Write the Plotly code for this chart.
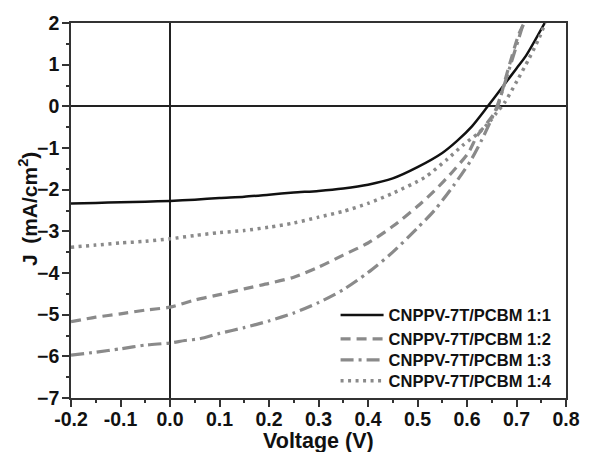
import plotly.graph_objects as go

# ---- data ----
v_11 = [-0.2, -0.15, -0.1, -0.05, 0.0, 0.05, 0.1, 0.15, 0.2, 0.25, 0.3, 0.35, 0.4, 0.45, 0.5, 0.55, 0.58, 0.61, 0.64, 0.672, 0.7, 0.719, 0.757]
j_11 = [-2.33, -2.32, -2.30, -2.29, -2.27, -2.24, -2.20, -2.17, -2.12, -2.07, -2.03, -1.97, -1.88, -1.73, -1.46, -1.12, -0.83, -0.48, -0.03, 0.47, 0.91, 1.21, 2.0]

v_12 = [-0.2, -0.15, -0.1, -0.05, 0.0, 0.05, 0.1, 0.15, 0.2, 0.25, 0.3, 0.35, 0.4, 0.45, 0.5, 0.534, 0.573, 0.603, 0.62, 0.64, 0.66, 0.679, 0.705, 0.716]
j_12 = [-5.17, -5.06, -4.98, -4.89, -4.82, -4.65, -4.52, -4.38, -4.25, -4.10, -3.86, -3.57, -3.28, -2.88, -2.40, -2.03, -1.54, -1.11, -0.72, -0.41, -0.07, 0.72, 1.74, 2.0]

v_13 = [-0.2, -0.15, -0.1, -0.05, 0.0, 0.03, 0.06, 0.1, 0.15, 0.2, 0.25, 0.3, 0.35, 0.4, 0.45, 0.5, 0.534, 0.573, 0.607, 0.63, 0.66, 0.686, 0.711, 0.714]
j_13 = [-5.97, -5.90, -5.82, -5.73, -5.68, -5.62, -5.58, -5.45, -5.31, -5.15, -4.96, -4.71, -4.40, -3.99, -3.50, -2.92, -2.50, -1.90, -1.31, -0.80, -0.02, 0.92, 1.88, 2.0]

v_14 = [-0.2, -0.15, -0.1, -0.05, 0.0, 0.05, 0.1, 0.15, 0.2, 0.25, 0.3, 0.35, 0.4, 0.449, 0.514, 0.561, 0.591, 0.623, 0.645, 0.66, 0.676, 0.701, 0.725, 0.745, 0.758]
j_14 = [-3.38, -3.33, -3.28, -3.24, -3.18, -3.10, -3.03, -2.98, -2.90, -2.80, -2.66, -2.52, -2.33, -2.09, -1.71, -1.26, -0.94, -0.64, -0.38, -0.15, 0.09, 0.61, 1.14, 1.62, 2.0]

names = ["CNPPV-7T/PCBM 1:1", "CNPPV-7T/PCBM 1:2", "CNPPV-7T/PCBM 1:3", "CNPPV-7T/PCBM 1:4"]
x_ticks = [-0.2, -0.1, 0.0, 0.1, 0.2, 0.3, 0.4, 0.5, 0.6, 0.7, 0.8]
x_tick_labels = ["-0.2", "-0.1", "0.0", "0.1", "0.2", "0.3", "0.4", "0.5", "0.6", "0.7", "0.8"]
y_ticks = [2, 1, 0, -1, -2, -3, -4, -5, -6, -7]

FONT = "Liberation Sans, Arial, sans-serif"
GRAY = "#8a8a8a"
INK = "#111111"

fig = go.Figure()
styles = [
    dict(color=INK, width=2.5, dash="solid"),
    dict(color=GRAY, width=3.2, dash="10px,6px"),
    dict(color=GRAY, width=3.2, dash="13px,5px,3px,5px"),
    dict(color=GRAY, width=3.5, dash="3px,4.5px"),
]
legend_ids = ["legend", "legend2", "legend3", "legend4"]
series = [(v_11, j_11), (v_12, j_12), (v_13, j_13), (v_14, j_14)]
for (vx, jy), nm, st, lg in zip(series, names, styles, legend_ids):
    fig.add_trace(go.Scatter(x=vx, y=jy, mode="lines", name=nm, legend=lg,
                             line=dict(shape="spline", smoothing=0.7, **st)))

axis_common = dict(
    showline=True, linecolor="#333333", linewidth=1.5, mirror=True,
    showgrid=False, zeroline=True, zerolinecolor="#222222", zerolinewidth=1.5,
    ticks="outside", ticklen=7, tickwidth=1.5, tickcolor="#333333",
    tickfont=dict(family=FONT, size=19.5, color=INK, weight="bold"),
)
fig.update_xaxes(range=[-0.2, 0.8], tickvals=x_ticks, ticktext=x_tick_labels,
                 ticklabelstandoff=-4,
                 minor=dict(ticks="outside", ticklen=3.5, tickwidth=1.5, tickcolor="#333333", dtick=0.05, tick0=0),
                 **axis_common)
fig.update_yaxes(range=[-7, 2], tickvals=y_ticks, ticklabelstandoff=-1,
                 minor=dict(ticks="outside", ticklen=3.5, tickwidth=1.5, tickcolor="#333333", dtick=0.5, tick0=0),
                 **axis_common)

fig.add_annotation(text="Voltage (V)", x=0.5, xref="paper", y=-0.1157, yref="paper",
                   xanchor="center", yanchor="middle", showarrow=False,
                   font=dict(family=FONT, size=21.5, color=INK, weight="bold"))
fig.add_annotation(text="J\u2002(mA/cm<sup>2</sup>)", x=-0.0868, xref="paper", y=0.504, yref="paper",
                   xanchor="center", yanchor="middle", textangle=-90, showarrow=False,
                   font=dict(family=FONT, size=21, color=INK, weight="bold"))

leg_font = dict(family=FONT, size=16.5, color=INK, weight="bold")
row_y = [0.2207, 0.1569, 0.1011, 0.0452]
legend_layout = {}
for lg, yy in zip(legend_ids, row_y):
    legend_layout[lg] = dict(x=0.5345, xanchor="left", y=yy, yanchor="middle",
                             bgcolor="rgba(0,0,0,0)", borderwidth=0, itemwidth=43,
                             font=leg_font)

fig.update_layout(
    width=592, height=452,
    margin=dict(l=71, r=14, t=22, b=54),
    paper_bgcolor="white", plot_bgcolor="white",
    showlegend=True,
    **legend_layout,
)

fig.write_html("out.html")
